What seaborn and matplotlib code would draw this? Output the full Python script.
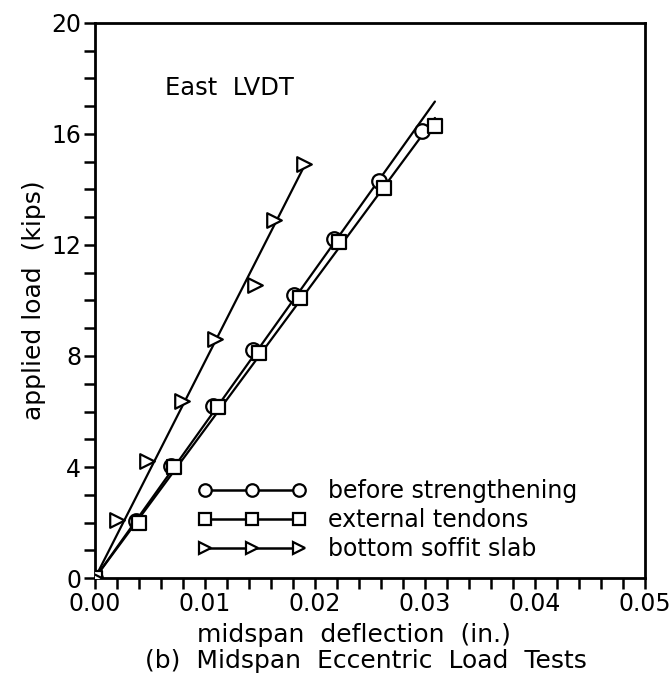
import numpy as np
import pandas as pd
import seaborn as sns
import matplotlib.pyplot as plt
from matplotlib.lines import Line2D
from matplotlib.ticker import MultipleLocator, FormatStrFormatter

# Readings: midspan deflection (in.) vs applied load (kips)
before_x = [0.0, 0.0037, 0.0069, 0.0107, 0.0144, 0.0181, 0.0217, 0.0258, 0.0297]
before_y = [0.0, 2.05, 4.05, 6.2, 8.2, 10.2, 12.2, 14.3, 16.1]
tendon_x = [0.0, 0.0040, 0.0072, 0.0112, 0.0149, 0.0186, 0.0222, 0.0263, 0.0309]
tendon_y = [0.0, 2.0, 4.0, 6.15, 8.1, 10.1, 12.1, 14.05, 16.3]
soffit_x = [0.0, 0.0020, 0.0047, 0.0079, 0.0109, 0.0145, 0.0163, 0.0190]
soffit_y = [0.0, 2.08, 4.23, 6.38, 8.6, 10.57, 12.9, 14.9]

labels = ['before strengthening', 'external tendons', 'bottom soffit slab']
markers = ['o', 's', '>']

sns.set_style('ticks')
plt.rcParams['font.family'] = ['DejaVu Sans']
plt.rcParams['text.color'] = 'black'
plt.rcParams['axes.labelcolor'] = 'black'

fig = plt.figure(figsize=(6.71, 6.79), dpi=100)
ax = fig.add_axes([0.1416, 0.1487, 0.8197, 0.8175])

series = [(before_x, before_y), (tendon_x, tendon_y), (soffit_x, soffit_y)]
# the straight lines are least-squares fits through the origin
end_x = [max(tendon_x), max(tendon_x), max(soffit_x)]
for (xs, ys), m, lab, xe in zip(series, markers, labels, end_x):
    xs = np.array(xs)
    ys = np.array(ys)
    slope = (xs * ys).sum() / (xs ** 2).sum()
    fit = pd.DataFrame({'x': [0.0, xe], 'y': [0.0, slope * xe]})
    sns.lineplot(data=fit, x='x', y='y', ax=ax, color='black', lw=1.6)
    df = pd.DataFrame({'x': xs, 'y': ys})
    sns.scatterplot(data=df, x='x', y='y', ax=ax, marker=m, s=110,
                    facecolor='white', edgecolor='black', linewidth=1.6,
                    zorder=3, legend=False)

ax.set_xlim(0, 0.05)
ax.set_ylim(0, 20)
ax.xaxis.set_major_locator(MultipleLocator(0.01))
ax.xaxis.set_minor_locator(MultipleLocator(0.002))
ax.yaxis.set_major_locator(MultipleLocator(4))
ax.yaxis.set_minor_locator(MultipleLocator(1))
ax.xaxis.set_major_formatter(FormatStrFormatter('%.2f'))
ax.tick_params(which='both', direction='out', length=8, width=1.8,
               labelsize=17, colors='black', pad=2)
for sp in ax.spines.values():
    sp.set_linewidth(2)
    sp.set_visible(True)
    sp.set_color('black')

ax.set_xlabel('')
ax.set_ylabel('applied load  (kips)', fontsize=18, labelpad=4)
fig.text(0.528, 0.065, 'midspan  deflection  (in.)', ha='center',
         va='center', fontsize=18)
fig.text(0.545, 0.027, '(b)  Midspan  Eccentric  Load  Tests', ha='center',
         va='center', fontsize=18)
ax.text(0.127, 0.883, 'East  LVDT', transform=ax.transAxes, fontsize=17.5,
        va='center', ha='left')

handles = [Line2D([], [], color='black', lw=1.8, marker=m, markersize=9,
                  markerfacecolor='white', markeredgecolor='black',
                  markeredgewidth=1.6) for m in markers]
ax.legend(handles, labels, loc='lower left', bbox_to_anchor=(0.17, 0.014),
          frameon=False, numpoints=3, handlelength=4.6, fontsize=17,
          labelspacing=0.2, handletextpad=0.9, borderaxespad=0)

fig.savefig('out.png', dpi=100)
